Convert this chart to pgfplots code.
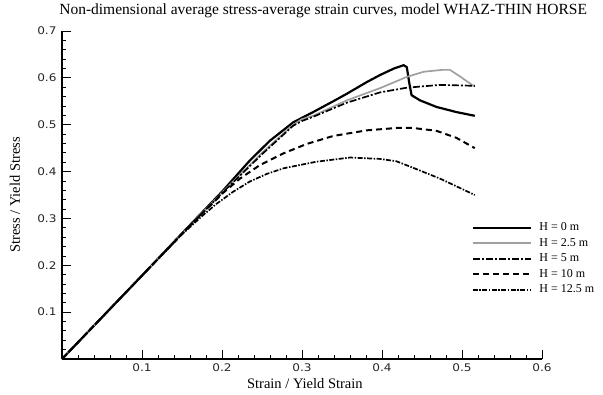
\documentclass[border=0pt]{standalone}
\usepackage{fontspec}
\setmainfont{Liberation Serif}
\newfontfamily\ticksf{DejaVu Sans}[FakeStretch=1.15]
\usepackage{pgfplots}
\pgfplotsset{compat=1.18}
\usepackage{pgfplotstable}
\definecolor{lgray}{HTML}{A0A0A0}

\pgfplotstableread{
x y
0 0
0.05 0.089
0.10 0.178
0.15 0.268
0.20 0.357
0.235 0.424
0.26 0.466
0.289 0.505
0.314 0.527
0.339 0.550
0.356 0.566
0.381 0.591
0.3975 0.606
0.415 0.620
0.427 0.627
0.431 0.623
0.434 0.590
0.437 0.563
0.4475 0.552
0.468 0.538
0.493 0.527
0.516 0.519
}\hzero
\pgfplotstableread{
x y
0 0
0.10 0.178
0.15 0.267
0.20 0.355
0.25 0.440
0.289 0.500
0.30 0.512
0.314 0.519
0.356 0.552
0.3975 0.578
0.431 0.602
0.452 0.613
0.475 0.617
0.485 0.617
0.4975 0.603
0.516 0.581
}\htwofive
\pgfplotstableread{
x y
0 0
0.10 0.178
0.15 0.267
0.20 0.354
0.25 0.437
0.289 0.498
0.30 0.508
0.314 0.517
0.356 0.547
0.3975 0.569
0.431 0.579
0.4725 0.585
0.516 0.583
}\hfive
\pgfplotstableread{
x y
0 0
0.10 0.178
0.15 0.267
0.175 0.310
0.2017 0.355
0.2225 0.385
0.2475 0.414
0.277 0.439
0.306 0.459
0.339 0.476
0.381 0.488
0.418 0.493
0.439 0.493
0.468 0.487
0.493 0.472
0.516 0.450
}\hten
\pgfplotstableread{
x y
0 0
0.10 0.178
0.15 0.266
0.175 0.305
0.193 0.331
0.214 0.357
0.235 0.379
0.256 0.395
0.277 0.407
0.318 0.421
0.36 0.430
0.3975 0.427
0.418 0.422
0.439 0.408
0.4725 0.385
0.516 0.350
}\htwelve

\begin{document}
\begin{tikzpicture}
\begin{axis}[
  scale only axis,
  width=480pt, height=328pt,
  xmin=0, xmax=0.6, ymin=0, ymax=0.7,
  axis x line=bottom, axis y line=left,
  axis line style={-, line width=1.1pt, black},
  tick align=inside,
  xtick={0,0.1,0.2,0.3,0.4,0.5,0.6},
  xticklabels={,0.1,0.2,0.3,0.4,0.5,0.6},
  ytick={0,0.1,0.2,0.3,0.4,0.5,0.6,0.7},
  yticklabels={,0.1,0.2,0.3,0.4,0.5,0.6,0.7},
  minor tick num=4,
  major tick length=9pt, minor tick length=4.5pt,
  every tick/.style={black, line width=0.8pt},
  /pgf/number format/assume math mode=true,
  ticklabel style={font=\ticksf\fontsize{10.5}{12}\selectfont, text=black!85},
  xticklabel style={yshift=-1.5pt},
  yticklabel style={xshift=-2pt},
  title={Non-dimensional average stress-average strain curves, model WHAZ-THIN HORSE},
  title style={at={(axis description cs:-0.006,1.0335)}, anchor=base west, font=\fontsize{15.5}{17}\selectfont, inner sep=0pt},
  xlabel={Strain / Yield Strain},
  xlabel style={at={(axis description cs:0.506,-0.076)}, anchor=center, font=\fontsize{14.5}{16}\selectfont, inner sep=0pt},
  ylabel={Stress / Yield Stress},
  ylabel style={at={(axis description cs:-0.098,0.5)}, anchor=center, font=\fontsize{14.5}{16}\selectfont, inner sep=0pt},
  legend style={at={(axis cs:0.512,0.297)}, anchor=north west, draw=none, fill=none,
    inner sep=0pt, row sep=0pt,
    nodes={inner sep=1.5pt, text height=9pt, text depth=3.5pt, font=\fontsize{12}{14}\selectfont}},
  legend cell align=left,
  legend image code/.code={\draw[#1] (0pt,0pt) -- (58pt,0pt); \path (64pt,0pt);},
]
\addplot[black, line width=2.2pt, line join=round] table[x=x,y=y] {\hzero};
\addlegendentry{H = 0 m}
\addplot[lgray, line width=1.7pt, line join=round] table[x=x,y=y] {\htwofive};
\addlegendentry{H = 2.5 m}
\addplot[black, line width=1.7pt, dash pattern=on 7pt off 2pt on 2pt off 2pt] table[x=x,y=y] {\hfive};
\addlegendentry{H = 5 m}
\addplot[black, line width=2pt, dash pattern=on 6pt off 4pt] table[x=x,y=y] {\hten};
\addlegendentry{H = 10 m}
\addplot[black, line width=1.7pt, dash pattern=on 5pt off 1.5pt on 1.5pt off 1.5pt] table[x=x,y=y] {\htwelve};
\addlegendentry{H = 12.5 m}
\end{axis}
\pgfresetboundingbox
\path[use as bounding box] (-62pt,-35pt) rectangle (541pt,359pt);
\end{tikzpicture}
\end{document}
